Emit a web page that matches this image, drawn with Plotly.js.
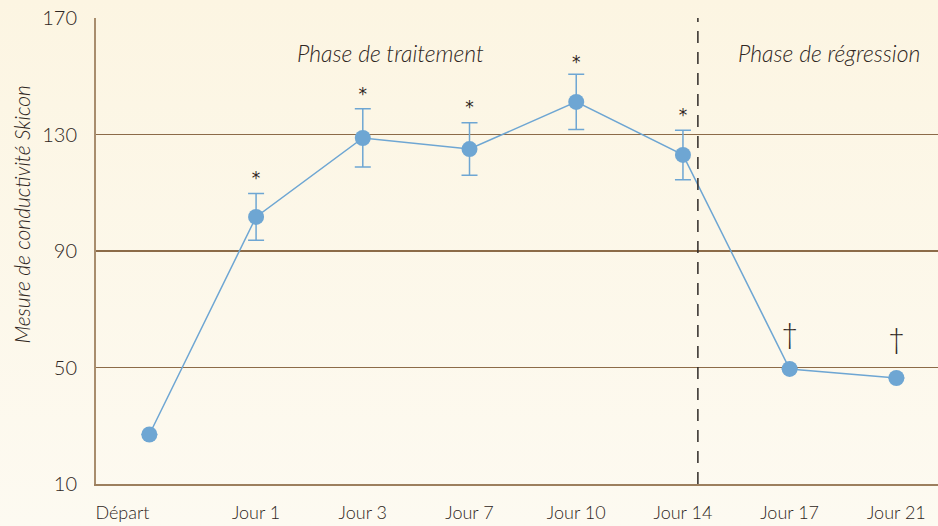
<!DOCTYPE html>
<html>
<head>
<meta charset="utf-8">
<script src="https://cdn.plot.ly/plotly-3.0.1.min.js"></script>
<style>
html,body{margin:0;padding:0;}
body{width:938px;height:526px;background:linear-gradient(#fcf5e2,#fdfaf1);}
#chart{width:938px;height:526px;}
</style>
</head>
<body>
<div id="chart"></div>
<script>
const categories = ["Départ","Jour 1","Jour 3","Jour 7","Jour 10","Jour 14","Jour 17","Jour 21"];
const values = [27, 101.7, 128.8, 125, 141.2, 123, 49.5, 46.4];
const errors = [0, 8, 10, 9, 9.5, 8.5, 0, 0];
const markLabels = ["", "*", "*", "*", "*", "*", "†", "†"];
const markY = [null, 114.5, 143.3, 139, 154.3, 136.2, 60.8, 59];
const yTicks = [10, 50, 90, 130, 170];
const phaseLabels = ["Phase de traitement", "Phase de régression"];
const phaseSplit = 5.14;

const blue = "#6ea6d3";
const brown = "#8c6b48";
const textCol = "#2f2622";
const font = "Lato, 'Open Sans', sans-serif";

const xIdx = categories.map((c,i)=>i);
// first label sits left-aligned against the axis in the original
const tickText = categories.map((c,i)=> i === 0 ? c + "\u00a0".repeat(11) : c);

const traces = [
  {
    x: xIdx, y: values, type: "scatter", mode: "lines+markers",
    line: {color: blue, width: 1.5},
    marker: {color: blue, size: 16},
    error_y: {type: "data", array: errors, visible: true, color: blue, thickness: 1.5, width: 8},
    hoverinfo: "none"
  },
  {
    x: xIdx.filter((_,i)=>markLabels[i] === "*"),
    y: markY.filter((_,i)=>markLabels[i] === "*"),
    text: markLabels.filter(t=>t === "*"),
    type: "scatter", mode: "text",
    textfont: {family: "'DejaVu Sans', sans-serif", size: 17, color: textCol},
    hoverinfo: "none"
  },
  {
    x: xIdx.filter((_,i)=>markLabels[i] === "†"),
    y: markY.filter((_,i)=>markLabels[i] === "†"),
    text: markLabels.filter(t=>t === "†"),
    type: "scatter", mode: "text",
    textfont: {family: font, size: 30, color: textCol, weight: 300},
    hoverinfo: "none"
  }
];

const layout = {
  width: 938, height: 526,
  margin: {l: 96, r: 0, t: 18, b: 42},
  paper_bgcolor: "rgba(0,0,0,0)",
  plot_bgcolor: "rgba(0,0,0,0)",
  showlegend: false,
  font: {family: font, color: textCol},
  xaxis: {
    range: [-0.5, 7.39],
    tickmode: "array", tickvals: xIdx, ticktext: tickText,
    showgrid: false, zeroline: false,
    showline: true, linecolor: "#9c7f5e", linewidth: 2,
    ticks: "", ticklabelstandoff: 11,
    tickfont: {family: font, size: 18, color: textCol, weight: 300},
    fixedrange: true
  },
  yaxis: {
    range: [10, 170],
    tickmode: "array", tickvals: yTicks,
    showgrid: true, gridcolor: brown, gridwidth: 1.5,
    zeroline: false,
    showline: true, linecolor: "#a88d6d", linewidth: 2,
    ticks: "", ticklabelstandoff: 13,
    tickfont: {family: font, size: 20, color: textCol, weight: 300},
    fixedrange: true
  },
  shapes: [
    {type: "line", xref: "x", yref: "paper", x0: phaseSplit, x1: phaseSplit, y0: 0, y1: 1,
     line: {color: "#2f2a27", width: 1.5, dash: "12px,9px"}}
  ],
  annotations: [
    {text: "<i>Mesure de conductivité Skicon</i>", xref: "paper", yref: "paper",
     x: -0.088, y: 0.58, xanchor: "center", yanchor: "middle", textangle: -90, showarrow: false,
     font: {family: font, size: 21, color: textCol, weight: 300}},
    {text: "<i>" + phaseLabels[0] + "</i>", xref: "x", yref: "paper",
     x: 2.26, y: 0.925, xanchor: "center", yanchor: "middle", showarrow: false,
     font: {family: font, size: 23, color: textCol, weight: 300}},
    {text: "<i>" + phaseLabels[1] + "</i>", xref: "x", yref: "paper",
     x: 6.37, y: 0.925, xanchor: "center", yanchor: "middle", showarrow: false,
     font: {family: font, size: 23, color: textCol, weight: 300}}
  ]
};

Plotly.newPlot("chart", traces, layout, {staticPlot: true, displayModeBar: false});
</script>
</body>
</html>
